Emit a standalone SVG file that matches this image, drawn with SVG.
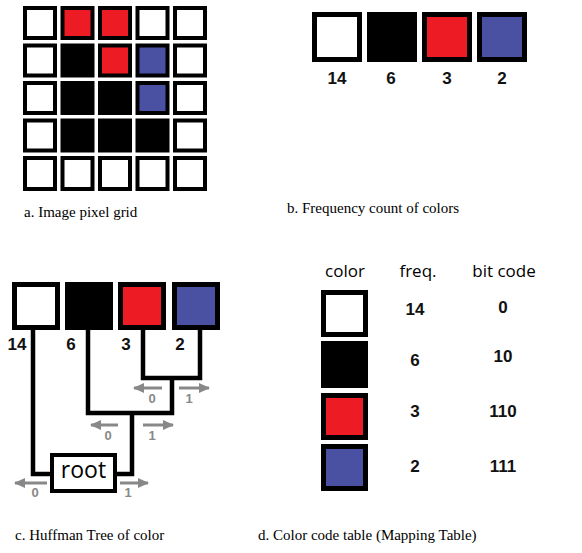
<svg xmlns="http://www.w3.org/2000/svg" width="582" height="553" viewBox="0 0 582 553">
<style>
.w{fill:#ffffff}.k{fill:#000000}.r{fill:#ed1c24}.b{fill:#4a51a3}
.c{stroke:#000;stroke-width:4}
.big{stroke:#000;stroke-width:5}
.num{font-family:"Liberation Sans",Arial,sans-serif;font-weight:bold;font-size:17px;fill:#111;text-anchor:middle}
.hdr{font-family:"Open Sans","DejaVu Sans",sans-serif;font-size:17px;fill:#000;text-anchor:middle}
.cap{font-family:"Liberation Serif","Times New Roman",serif;font-size:15px;fill:#000}
.tree{fill:none;stroke:#000;stroke-width:4.5;stroke-linejoin:miter}
.arr{stroke:#888;stroke-width:3;fill:none}
.bit{font-family:"Liberation Sans",Arial,sans-serif;font-weight:bold;font-size:13px;fill:#888;text-anchor:middle}
</style>
<defs>
<marker id="ah" markerUnits="userSpaceOnUse" markerWidth="12" markerHeight="10" refX="10" refY="5" orient="auto">
<path d="M0,0 L11,5 L0,10 Z" fill="#888"/>
</marker>
</defs>
<rect width="582" height="553" fill="#fff"/>

<!-- a. pixel grid -->
<g id="pixel-grid">
<rect class="c w" x="25" y="8" width="30" height="30"/>
<rect class="c r" x="62.5" y="8" width="30" height="30"/>
<rect class="c r" x="100" y="8" width="30" height="30"/>
<rect class="c w" x="137.5" y="8" width="30" height="30"/>
<rect class="c w" x="175" y="8" width="30" height="30"/>

<rect class="c w" x="25" y="45.5" width="30" height="30"/>
<rect class="c k" x="62.5" y="45.5" width="30" height="30"/>
<rect class="c r" x="100" y="45.5" width="30" height="30"/>
<rect class="c b" x="137.5" y="45.5" width="30" height="30"/>
<rect class="c w" x="175" y="45.5" width="30" height="30"/>

<rect class="c w" x="25" y="83" width="30" height="30"/>
<rect class="c k" x="62.5" y="83" width="30" height="30"/>
<rect class="c k" x="100" y="83" width="30" height="30"/>
<rect class="c b" x="137.5" y="83" width="30" height="30"/>
<rect class="c w" x="175" y="83" width="30" height="30"/>

<rect class="c w" x="25" y="120.5" width="30" height="30"/>
<rect class="c k" x="62.5" y="120.5" width="30" height="30"/>
<rect class="c k" x="100" y="120.5" width="30" height="30"/>
<rect class="c k" x="137.5" y="120.5" width="30" height="30"/>
<rect class="c w" x="175" y="120.5" width="30" height="30"/>

<rect class="c w" x="25" y="158" width="30" height="31"/>
<rect class="c w" x="62.5" y="158" width="30" height="31"/>
<rect class="c w" x="100" y="158" width="30" height="31"/>
<rect class="c w" x="137.5" y="158" width="30" height="31"/>
<rect class="c w" x="175" y="158" width="30" height="31"/>
</g>
<text class="cap" x="24" y="217">a. Image pixel grid</text>

<!-- b. frequency count -->
<g id="freq-white"><rect class="big w" x="314.5" y="14.5" width="45" height="45"/><text class="num" x="337" y="84">14</text></g>
<g id="freq-black"><rect class="big k" x="369.5" y="14.5" width="45" height="45"/><text class="num" x="391" y="84">6</text></g>
<g id="freq-red"><rect class="big r" x="424.5" y="14.5" width="45" height="45"/><text class="num" x="447" y="84">3</text></g>
<g id="freq-blue"><rect class="big b" x="479.5" y="14.5" width="45" height="45"/><text class="num" x="502" y="84">2</text></g>
<text class="cap" x="287" y="213">b. Frequency count of colors</text>

<!-- c. Huffman tree -->
<g id="connectors">
<path class="tree" d="M33 329 V474 H52"/>
<path class="tree" d="M115 474 H132 V413"/>
<path class="tree" d="M88 329 V413 H172 V378"/>
<path class="tree" d="M143 329 V378 H200 V329"/>
<line class="arr" x1="162" y1="388" x2="134" y2="388" marker-end="url(#ah)"/>
<line class="arr" x1="179" y1="388" x2="209" y2="388" marker-end="url(#ah)"/>
<text class="bit" x="152" y="403">0</text>
<text class="bit" x="189" y="403">1</text>
<line class="arr" x1="118" y1="425" x2="91" y2="425" marker-end="url(#ah)"/>
<line class="arr" x1="143" y1="425" x2="173" y2="425" marker-end="url(#ah)"/>
<text class="bit" x="108" y="440">0</text>
<text class="bit" x="152" y="440">1</text>
<line class="arr" x1="47" y1="483" x2="15" y2="483" marker-end="url(#ah)"/>
<line class="arr" x1="120" y1="483" x2="148" y2="483" marker-end="url(#ah)"/>
<text class="bit" x="35" y="497">0</text>
<text class="bit" x="128" y="497">1</text>
</g>
<g id="tree-white"><rect class="big w" x="14.5" y="284.5" width="43" height="43"/><text class="num" x="17" y="350">14</text></g>
<g id="tree-black"><rect class="big k" x="67.5" y="284.5" width="43" height="43"/><text class="num" x="71" y="350">6</text></g>
<g id="tree-red"><rect class="big r" x="120.5" y="284.5" width="43" height="43"/><text class="num" x="126" y="350">3</text></g>
<g id="tree-blue"><rect class="big b" x="174.5" y="284.5" width="43" height="43"/><text class="num" x="180" y="350">2</text></g>
<g id="root"><rect x="52" y="455" width="63" height="36" fill="#fff" stroke="#000" stroke-width="4"/><text x="83.5" y="478" font-family="'Open Sans','DejaVu Sans',sans-serif" font-size="23" text-anchor="middle" fill="#000">root</text></g>
<text class="cap" x="15" y="540">c. Huffman Tree of color</text>

<!-- d. color code table -->
<g id="table-header">
<text class="hdr" x="345" y="277">color</text>
<text class="hdr" x="418" y="277">freq.</text>
<text class="hdr" x="504" y="277">bit code</text>
</g>
<g id="row-white"><rect class="big w" x="323.5" y="292.5" width="42" height="42"/><text class="num" x="415" y="315">14</text><text class="num" x="503" y="313">0</text></g>
<g id="row-black"><rect class="big k" x="323.5" y="343.5" width="42" height="42"/><text class="num" x="415" y="366">6</text><text class="num" x="503" y="362">10</text></g>
<g id="row-red"><rect class="big r" x="323.5" y="395.5" width="42" height="42"/><text class="num" x="415" y="417">3</text><text class="num" x="503" y="417">110</text></g>
<g id="row-blue"><rect class="big b" x="323.5" y="446.5" width="42" height="42"/><text class="num" x="415" y="472">2</text><text class="num" x="503" y="472">111</text></g>
<text class="cap" x="258" y="540">d. Color code table (Mapping Table)</text>
</svg>
